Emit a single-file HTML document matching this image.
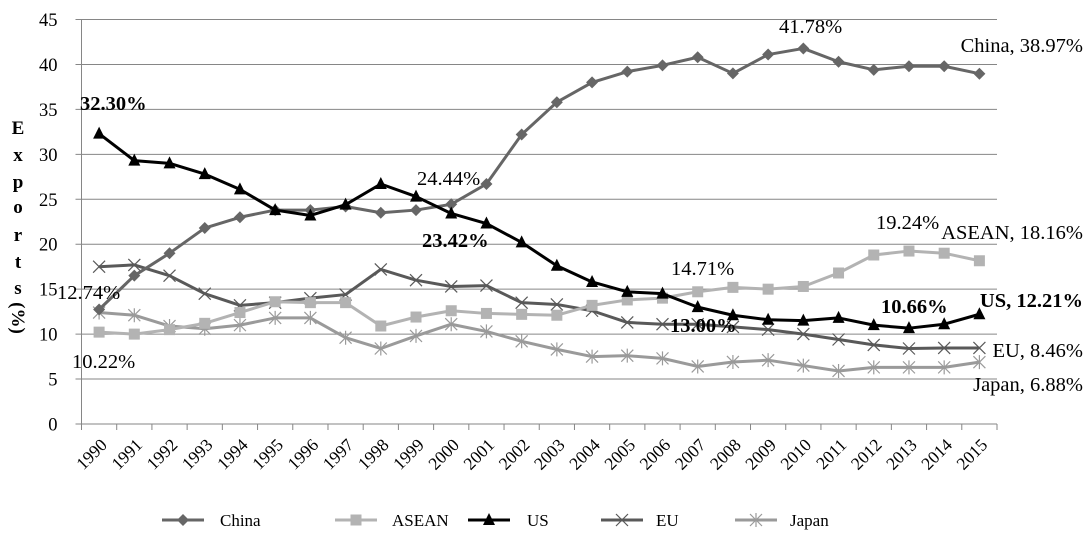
<!DOCTYPE html>
<html><head><meta charset="utf-8"><style>
html,body{margin:0;padding:0;background:#fff;width:1090px;height:555px;overflow:hidden}
svg{display:block;font-family:"Liberation Serif",serif}
</style></head><body>
<svg id="chart" width="1090" height="555"></svg>
<script>
const years=[1990,1991,1992,1993,1994,1995,1996,1997,1998,1999,2000,2001,2002,2003,2004,2005,2006,2007,2008,2009,2010,2011,2012,2013,2014,2015];
const china=[12.74,16.5,19,21.8,23,23.8,23.8,24.2,23.5,23.8,24.44,26.7,32.2,35.8,38,39.2,39.9,40.8,39,41.1,41.78,40.3,39.4,39.8,39.8,38.97];
const asean=[10.22,10.0,10.5,11.2,12.4,13.6,13.5,13.5,10.9,11.9,12.6,12.3,12.2,12.1,13.2,13.8,14.0,14.71,15.2,15.0,15.3,16.8,18.8,19.24,19.0,18.16];
const us=[32.3,29.3,29,27.8,26.1,23.8,23.2,24.4,26.7,25.3,23.42,22.3,20.2,17.6,15.8,14.7,14.5,13.0,12.1,11.6,11.5,11.8,11.0,10.66,11.1,12.21];
const eu=[17.5,17.7,16.5,14.5,13.2,13.5,14.0,14.4,17.2,16.0,15.3,15.4,13.5,13.3,12.6,11.3,11.1,11.1,10.8,10.5,10.0,9.4,8.8,8.4,8.46,8.46];
const japan=[12.4,12.1,10.9,10.6,11.0,11.8,11.8,9.6,8.4,9.8,11.1,10.3,9.2,8.3,7.5,7.6,7.3,6.4,6.9,7.1,6.5,5.9,6.3,6.3,6.3,6.88];
const yTicks=[0,5,10,15,20,25,30,35,40,45];

const NS='http://www.w3.org/2000/svg';
const svg=document.getElementById('chart');
const L=81.5,R=997,T=19.5,B=424;
const band=(R-L)/years.length;
function x(i){return L+band*(i+0.5);}
function y(v){return B-(v/45)*(B-T);}
function mk(tag,attrs,parent){const e=document.createElementNS(NS,tag);for(const k in attrs)e.setAttribute(k,attrs[k]);(parent||svg).appendChild(e);return e;}

yTicks.forEach(t=>{
  const g=mk('line',{x1:L-6,x2:R,y1:y(t),y2:y(t),stroke:'#868686','stroke-width':1});
  
  
  const tx=mk('text',{x:L-24,y:y(t)+6.5,'text-anchor':'end','font-size':18.5,fill:'#000'});
  tx.textContent=t;
  
  
});
const ax=mk('line',{x1:L,x2:L,y1:T,y2:B,stroke:'#868686'});


for(let i=0;i<=years.length;i++){
  const tk=mk('line',{x1:L+band*i,x2:L+band*i,y1:B,y2:B+6,stroke:'#868686'});
  
  
}
years.forEach((yr,i)=>{
  const tx=mk('text',{x:0,y:0,'text-anchor':'end','font-size':17.5,transform:`translate(${x(i)+9},${B+22}) rotate(-45)`});
  tx.textContent=yr;
  
  
});
const ys=[128,155,182,207,235,262,288];
const yt=mk('g',{});


'Exports'.split('').forEach((c,i)=>{const t=mk('text',{x:18,y:ys[i]+6,'text-anchor':'middle','font-size':19,'font-weight':'bold'},yt);t.textContent=c;});
const par=mk('text',{x:0,y:0,'font-size':19,'font-weight':'bold','text-anchor':'middle',transform:'translate(12,318) rotate(90)'},yt);par.textContent='(%)';

function marker(type,cx,cy,color,g){
  if(type==='diamond')mk('polygon',{points:`${cx},${cy-6} ${cx+6},${cy} ${cx},${cy+6} ${cx-6},${cy}`,fill:color},g);
  else if(type==='square')mk('rect',{x:cx-5.5,y:cy-5.5,width:11,height:11,fill:color},g);
  else if(type==='tri')mk('polygon',{points:`${cx},${cy-7} ${cx+6},${cy+5} ${cx-6},${cy+5}`,fill:'#000'},g);
  else if(type==='x'){mk('path',{d:`M${cx-6},${cy-6}L${cx+6},${cy+6}M${cx-6},${cy+6}L${cx+6},${cy-6}`,stroke:color,'stroke-width':1.2},g);}
  else if(type==='star'){mk('path',{d:`M${cx-6},${cy-6}L${cx+6},${cy+6}M${cx-6},${cy+6}L${cx+6},${cy-6}M${cx},${cy-7}L${cx},${cy+7}`,stroke:color,'stroke-width':1.2},g);}
}
const series=[
  {name:'japan',data:japan,color:'#9a9a9a',m:'star'},
  {name:'eu',data:eu,color:'#595959',m:'x'},
  {name:'asean',data:asean,color:'#b3b3b3',m:'square'},
  {name:'china',data:china,color:'#666666',m:'diamond'},
  {name:'us',data:us,color:'#000000',m:'tri'}
];
series.forEach(s=>{
  const g=mk('g',{});
  
  
  const d=s.data.map((v,i)=>(i?'L':'M')+x(i)+','+y(v)).join('');
  mk('path',{d:d,fill:'none',stroke:s.color,'stroke-width':3,'stroke-linejoin':'round'},g);
  s.data.forEach((v,i)=>marker(s.m,x(i),y(v),s.color,g));
});
const ann=[
  ['32.30%',80,110,true,'start'],['24.44%',417,185,false,'start'],['23.42%',422,247,true,'start'],
  ['12.74%',57,299,false,'start'],['10.22%',72,368,false,'start'],['41.78%',779,33,false,'start'],
  ['China, 38.97%',1083,52,false,'end'],['19.24%',876,229,false,'start'],['ASEAN, 18.16%',1083,239,false,'end'],
  ['14.71%',671,275,false,'start'],['10.66%',881,313,true,'start'],['US, 12.21%',1083,307,true,'end'],
  ['13.00%',670,332,true,'start'],['EU, 8.46%',1083,357,false,'end'],['Japan, 6.88%',1083,391,false,'end']
];
ann.forEach(a=>{
  const t=mk('text',{x:a[1],y:a[2],'font-size':20.5,'font-weight':a[3]?'bold':'normal','text-anchor':a[4]});
  t.textContent=a[0];
  
  
});
const leg=[['China','#666666','diamond',162,220],['ASEAN','#b3b3b3','square',335,392],['US','#000','tri',468,527],['EU','#595959','x',601,656],['Japan','#9a9a9a','star',735,790]];
leg.forEach(l=>{
  const g=mk('g',{});
  
  
  mk('line',{x1:l[3],x2:l[3]+42,y1:520,y2:520,stroke:l[1],'stroke-width':3},g);
  marker(l[2],l[3]+21,520,l[1],g);
  const t=mk('text',{x:l[4],y:526,'font-size':17},g);t.textContent=l[0];
});
</script>
</body></html>
